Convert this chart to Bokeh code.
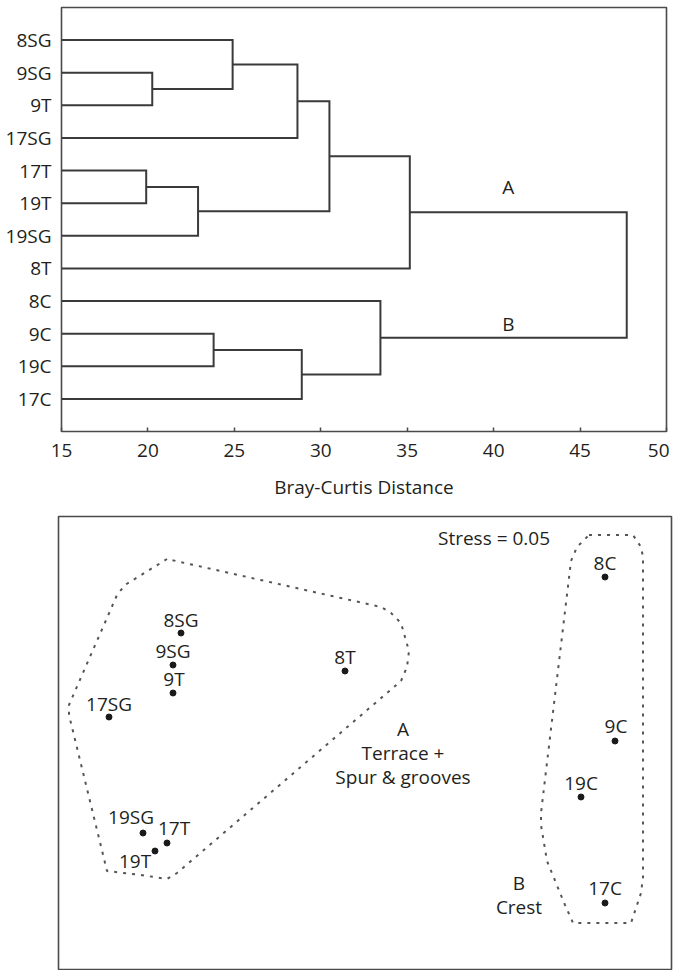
from bokeh.plotting import figure
from bokeh.models import Range1d, FixedTicker, ColumnDataSource, Label
from bokeh.layouts import column, row
from bokeh.embed import file_html
from bokeh.resources import INLINE
from bokeh.core.properties import value

# ---------------- Dendrogram data ----------------
leaves = ["8SG", "9SG", "9T", "17SG", "17T", "19T", "19SG", "8T", "8C", "9C", "19C", "17C"]
# merges: node "c{i}" joins merge_left[i] and merge_right[i] at merge_dist[i]
merge_left = ["9SG", "8SG", "c1", "17T", "c3", "c2", "c5", "9C", "c7", "8C", "c6"]
merge_right = ["9T", "c0", "17SG", "19T", "19SG", "c4", "8T", "19C", "17C", "c8", "c9"]
merge_dist = [20.25, 24.9, 28.65, 19.9, 22.9, 30.5, 35.15, 23.8, 28.9, 33.45, 47.7]
dist_ticks = [15, 20, 25, 30, 35, 40, 45, 50]
cluster_labels = {"c6": "A", "c9": "B"}
x_title = "Bray-Curtis Distance"

# ---------------- NMDS data ----------------
samples = ["8SG", "9SG", "9T", "17SG", "19SG", "17T", "19T", "8T", "8C", "9C", "19C", "17C"]
nmds1 = [-0.92, -0.96, -0.96, -1.28, -1.11, -0.99, -1.05, -0.10, 1.20, 1.25, 1.08, 1.20]
nmds2 = [0.55, 0.39, 0.25, 0.13, -0.45, -0.50, -0.54, 0.36, 0.83, 0.01, -0.27, -0.80]
hull_a_x = [-0.99, -1.20, -1.24, -1.48, -1.48, -1.29, -1.12, -0.99, -0.94, 0.18, 0.21, 0.22, 0.18, 0.13, 0.08]
hull_a_y = [0.92, 0.79, 0.74, 0.19, 0.14, -0.64, -0.66, -0.68, -0.65, 0.31, 0.38, 0.46, 0.60, 0.65, 0.68]
hull_b_x = [1.12, 1.34, 1.38, 1.39, 1.39, 1.38, 1.33, 1.04, 1.00, 0.91, 0.88, 0.88, 1.03, 1.06]
hull_b_y = [1.04, 1.04, 0.98, 0.93, -0.67, -0.75, -0.90, -0.90, -0.81, -0.59, -0.41, -0.35, 0.91, 0.98]
stress_text = "Stress = 0.05"
group_a_text = ["A", "Terrace +", "Spur & grooves"]
group_b_text = ["B", "Crest"]

# ---------------- styles / layout ----------------
FONT = "Open Sans"
FS = "19px"
TXT = "#231f20"
LINE = "#3a3a3a"
FRAME = "#4a4a4a"
BASE_SHIFT = -8  # compensates the renderer's alphabetic-baseline placement
# label offsets in screen px (dx, dy) relative to each NMDS point
label_dx = [0, 0, 1, 0, -12, 7, -20, 0, 0, 1, 0, 0]
label_dy = [-5, -6, -6, -5, -8, -7, 18, -6, -6, -7, -6, -7]
label_dy = [d + BASE_SHIFT for d in label_dy]

# ---------------- top: dendrogram ----------------
pos = {}
for i, name in enumerate(leaves):
    pos[name] = (dist_ticks[0], i + 1)

xs, ys = [], []
for i, (l, r, d) in enumerate(zip(merge_left, merge_right, merge_dist)):
    lx, ly = pos[l]
    rx, ry = pos[r]
    xs.append([lx, d, d, rx])
    ys.append([ly, ly, ry, ry])
    pos["c%d" % i] = (d, (ly + ry) / 2.0)

p1 = figure(width=669, height=505, output_backend="svg", toolbar_location=None,
            x_range=Range1d(dist_ticks[0], dist_ticks[-1]),
            y_range=Range1d(len(leaves) + 1, 0),
            min_border_left=61, min_border_right=3, min_border_top=7, min_border_bottom=74)
p1.multi_line(xs, ys, line_color=LINE, line_width=2, line_join="miter")

# cluster labels A / B, placed above the branch leading to the root
lab_x, lab_y, lab_t, lab_off = [], [], [], []
for node, t in cluster_labels.items():
    lab_x.append(40.85)
    lab_y.append(pos[node][1])
    lab_t.append(t)
    lab_off.append((-17 if t == "A" else -6) + BASE_SHIFT)
p1.text(x=lab_x, y=lab_y, text=lab_t, y_offset=lab_off, text_align="center",
        text_baseline="alphabetic", text_font=value(FONT), text_font_size=value(FS),
        text_color=TXT)

p1.grid.visible = False
p1.outline_line_color = FRAME
p1.outline_line_width = 1.6

p1.xaxis.ticker = FixedTicker(ticks=dist_ticks)
p1.xaxis.minor_tick_line_color = None
p1.xaxis.major_tick_in = 4
p1.xaxis.major_tick_out = 0
p1.xaxis.major_tick_line_color = FRAME
p1.xaxis.major_tick_line_width = 1.5
p1.xaxis.axis_line_color = None
p1.xaxis.major_label_text_font = FONT
p1.xaxis.major_label_text_font_size = FS
p1.xaxis.major_label_text_color = TXT
p1.xaxis.major_label_standoff = 12
p1.xaxis.axis_label = x_title
p1.xaxis.axis_label_text_font = FONT
p1.xaxis.axis_label_text_font_size = FS
p1.xaxis.axis_label_text_font_style = "normal"
p1.xaxis.axis_label_text_color = TXT
p1.xaxis.axis_label_standoff = 14

p1.yaxis.ticker = FixedTicker(ticks=list(range(1, len(leaves) + 1)))
p1.yaxis.major_label_overrides = {i + 1: n for i, n in enumerate(leaves)}
p1.yaxis.minor_tick_line_color = None
p1.yaxis.major_tick_line_color = None
p1.yaxis.major_tick_in = 0
p1.yaxis.major_tick_out = 0
p1.yaxis.axis_line_color = None
p1.yaxis.major_label_text_font = FONT
p1.yaxis.major_label_text_font_size = FS
p1.yaxis.major_label_text_color = TXT
p1.yaxis.major_label_standoff = 10

# ---------------- bottom: NMDS ----------------
p2 = figure(width=674, height=465, output_backend="svg", toolbar_location=None,
            x_range=Range1d(-1.5325, 1.5325), y_range=Range1d(-1.1325, 1.1325),
            x_axis_location=None, y_axis_location=None,
            min_border_left=58, min_border_right=3, min_border_top=11, min_border_bottom=1)
p2.grid.visible = False
p2.outline_line_color = FRAME
p2.outline_line_width = 1.6

p2.line(hull_a_x + hull_a_x[:1], hull_a_y + hull_a_y[:1], line_color="#555555",
        line_width=2, line_dash="3 6")
p2.line(hull_b_x + hull_b_x[:1], hull_b_y + hull_b_y[:1], line_color="#555555",
        line_width=2, line_dash="3 6")

src = ColumnDataSource(dict(x=nmds1, y=nmds2, name=samples, dx=label_dx, dy=label_dy))
p2.scatter("x", "y", source=src, size=6, color="#1a1a1a")
p2.text("x", "y", text="name", source=src, x_offset="dx", y_offset="dy",
        text_align="center", text_baseline="alphabetic", text_font=value(FONT),
        text_font_size=value(FS), text_color=TXT)

UNIT_SHIFT = -BASE_SHIFT / 200.0  # same baseline compensation in data units

def add_label(x, y, t):
    p2.add_layout(Label(x=x, y=y + UNIT_SHIFT, text=t, text_align="center",
                        text_baseline="alphabetic", text_font=FONT, text_font_size=FS,
                        text_color=TXT))

add_label(0.645, 0.9875, stress_text)
for t, yy in zip(group_a_text, [0.0325, -0.0875, -0.2075]):
    add_label(0.19, yy, t)
for t, yy in zip(group_b_text, [-0.7375, -0.8575]):
    add_label(0.77, yy, t)

layout = column(row(p1), row(p2))
open("out.html", "w").write(file_html(layout, INLINE))
